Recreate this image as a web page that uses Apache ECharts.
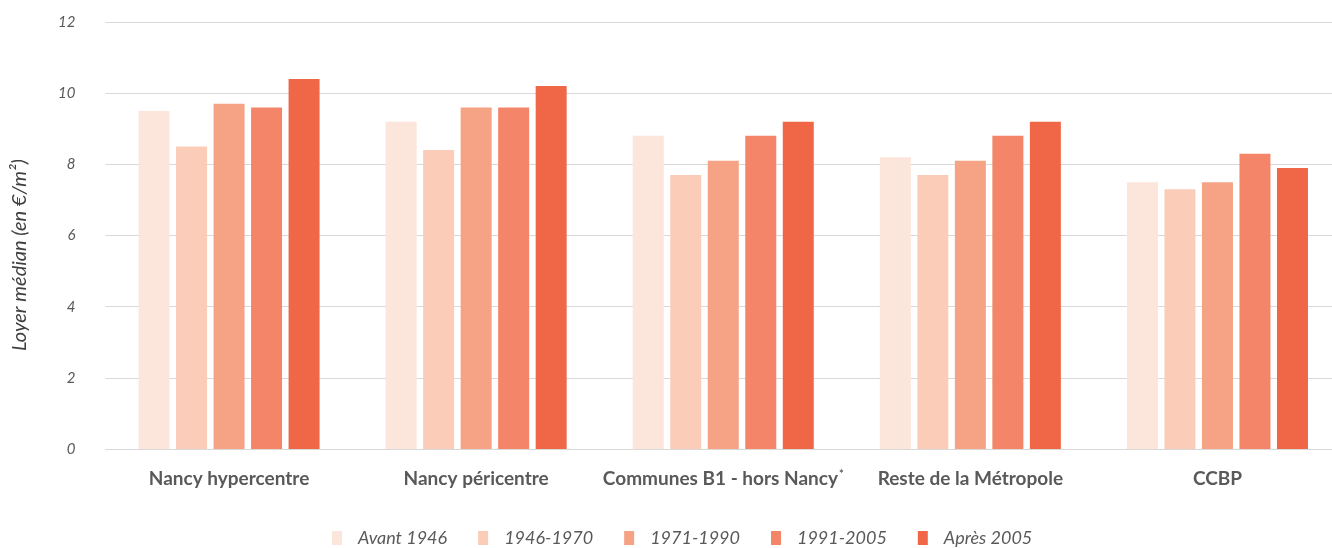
<!DOCTYPE html>
<html>
<head>
<meta charset="utf-8">
<script src="https://cdn.jsdelivr.net/npm/echarts@6/dist/echarts.min.js"></script>
<style>
  html, body { margin: 0; padding: 0; background: #ffffff; overflow: hidden; }
  #chart { width: 1341px; height: 548px; }
</style>
</head>
<body>
<div id="chart"></div>
<script>
// Median rent (€/m²) by area and construction period
const categories = ['Nancy hypercentre', 'Nancy péricentre', 'Communes B1 - hors Nancy', 'Reste de la Métropole', 'CCBP'];
const periods = ['Avant 1946', '1946-1970', '1971-1990', '1991-2005', 'Après 2005'];
const avant1946 = [9.5, 9.2, 8.8, 8.2, 7.5];
const p1946_1970 = [8.5, 8.4, 7.7, 7.7, 7.3];
const p1971_1990 = [9.7, 9.6, 8.1, 8.1, 7.5];
const p1991_2005 = [9.6, 9.6, 8.8, 8.8, 8.3];
const apres2005 = [10.4, 10.2, 9.2, 9.2, 7.9];
const yTicks = [0, 2, 4, 6, 8, 10, 12];

const seriesValues = [avant1946, p1946_1970, p1971_1990, p1991_2005, apres2005];
const colors = ['#fce5db', '#fbcdb9', '#f6a285', '#f48568', '#f06748'];
const FONT = 'Lato, "Liberation Sans", sans-serif';

const chart = echarts.init(document.getElementById('chart'), null, { renderer: 'canvas' });

chart.setOption({
  animation: false,
  backgroundColor: '#ffffff',
  color: colors,
  grid: { left: 105.5, right: 0, top: 22, bottom: 99, containLabel: false },
  legend: {
    left: 332,
    top: 529,
    padding: 0,
    itemWidth: 10,
    itemHeight: 14,
    itemGap: 31,
    icon: 'rect',
    data: periods,
    textStyle: {
      fontFamily: FONT,
      fontStyle: 'italic',
      fontSize: 18,
      color: '#595959',
      padding: [0, 0, 0, 11]
    }
  },
  xAxis: {
    type: 'category',
    data: categories,
    axisTick: { show: false },
    axisLine: { lineStyle: { color: '#d9d9d9', width: 1 } },
    axisLabel: {
      interval: 0,
      margin: 20,
      fontFamily: FONT,
      fontWeight: 'bold',
      fontSize: 19,
      color: '#595959',
      formatter: function (v) {
        return v === 'Communes B1 - hors Nancy' ? v + '{sup|*}' : v;
      },
      rich: {
        sup: {
          fontFamily: FONT,
          fontWeight: 'bold',
          fontSize: 11,
          color: '#595959',
          verticalAlign: 'top',
          padding: [0, 0, 9, 1]
        }
      }
    }
  },
  yAxis: {
    type: 'value',
    min: yTicks[0],
    max: yTicks[yTicks.length - 1],
    interval: 2,
    axisLine: { show: false },
    axisTick: { show: false },
    splitLine: { lineStyle: { color: '#d9d9d9', width: 1 } },
    axisLabel: {
      margin: 30,
      fontFamily: FONT,
      fontStyle: 'italic',
      fontSize: 15,
      color: '#595959'
    }
  },
  graphic: [{
    type: 'text',
    x: 20,
    y: 255,
    rotation: Math.PI / 2,
    style: {
      text: 'Loyer médian (en €/m²)',
      fontFamily: FONT,
      fontStyle: 'italic',
      fontSize: 20,
      fill: '#404040',
      align: 'center',
      verticalAlign: 'middle'
    }
  }],
  series: periods.map(function (name, i) {
    return {
      name: name,
      type: 'bar',
      data: seriesValues[i],
      barWidth: 31,
      barGap: '21%',
      itemStyle: { color: colors[i] }
    };
  })
});
</script>
</body>
</html>
